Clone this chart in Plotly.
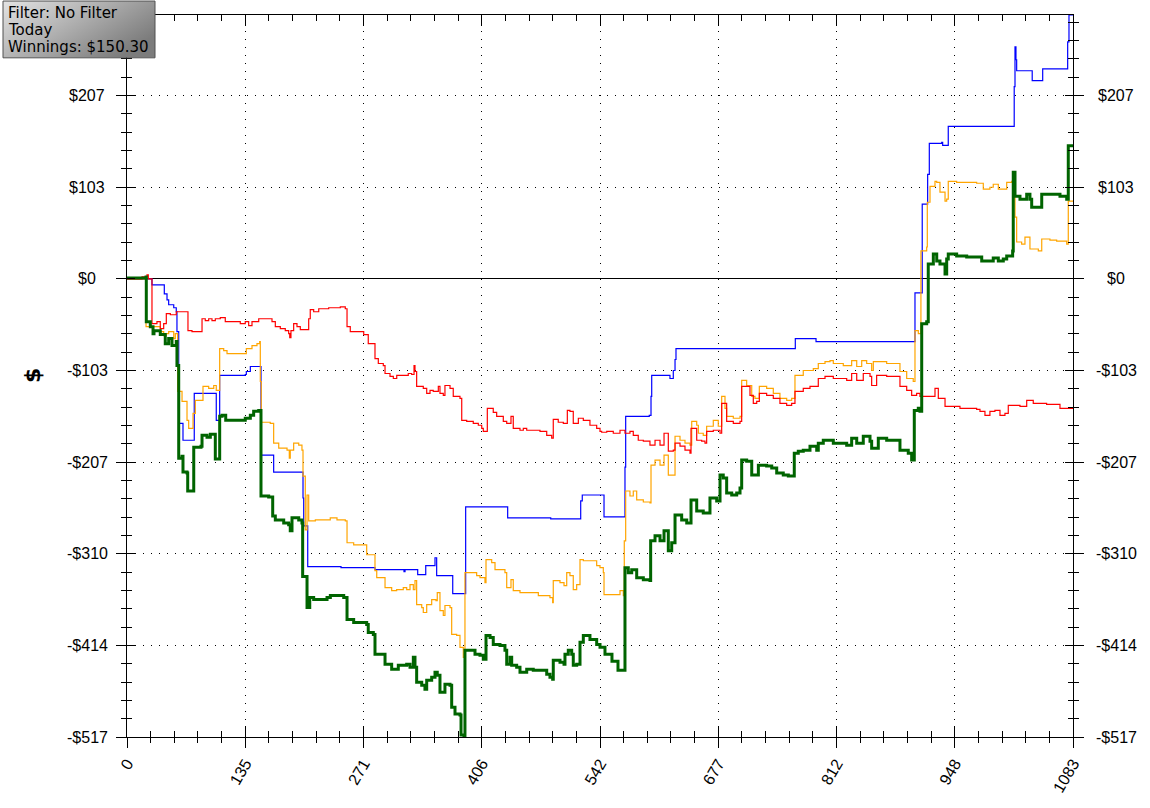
import base64
import plotly.graph_objects as go

# ---------------- data ----------------
HAND_MAX = 1083
Y_MIN, Y_MAX = -517.0, 297.8

x_tick_vals = [0, 135.375, 270.75, 406.125, 541.5, 676.875, 812.25, 947.625, 1083]
x_tick_text = ["0", "135", "271", "406", "542", "677", "812", "948", "1083"]
y_tick_vals = [-517.0, -413.6, -310.2, -206.8, -103.4, 0, 103.4, 206.8]
y_tick_text = ["-$517", "-$414", "-$310", "-$207", "-$103", "$0", "$103", "$207"]

# (hand, dollars) -- green: net won
net_won = [
    (0, 1.1), (21.8, 2.2), (22.1, -48.3), (26.7, -53.9), (29.8, -61.8), (30.9, -58.4), (38.1, -62.9),
    (43.8, -73.1), (47.7, -67.4), (51.5, -75.3), (56.4, -70.8), (57.2, -97.8), (59.2, -202.3),
    (63.0, -200.1), (64.1, -218.0), (68.7, -219.2), (69.5, -239.4), (76.4, -189.9), (84.7, -188.8),
    (85.9, -176.5), (91.6, -178.7), (95.4, -175.3), (101.1, -203.4), (106.1, -155.1), (108.8, -154.0),
    (113.0, -159.6), (135.4, -157.3), (141.2, -154.0), (145.0, -149.5), (150.8, -148.4), (153.4, -245.0),
    (162.2, -246.1), (166.8, -267.5), (169.8, -272.0), (179.4, -275.4), (185.1, -277.6), (186.9, -284.3),
    (188.9, -269.7), (196.6, -272.0), (200.3, -275.4), (201.1, -336.0), (206.1, -370.9), (209.2, -359.6),
    (213.7, -361.9), (229.0, -359.6), (232.8, -357.4), (248.1, -359.6), (251.9, -384.4), (259.5, -387.7),
    (274.4, -390.0), (276.2, -399.0), (282.0, -401.2), (283.9, -423.7), (295.4, -434.9), (303.0, -440.6),
    (310.6, -436.1), (320.2, -434.9), (324.0, -438.3), (327.8, -427.1), (329.7, -438.3), (331.6, -455.2),
    (337.4, -458.6), (341.1, -463.0), (343.1, -452.9), (348.8, -449.6), (352.6, -443.9), (355.2, -447.3),
    (358.3, -466.4), (364.0, -457.4), (369.8, -458.6), (371.7, -483.3), (375.5, -491.1), (381.2, -492.3),
    (382.4, -514.7), (385.8, -517.0), (386.9, -419.2), (398.4, -423.7), (404.1, -424.8), (407.9, -429.3),
    (411.0, -402.4), (415.6, -404.6), (419.3, -412.5), (427.0, -413.6), (432.7, -419.2), (434.7, -434.9),
    (438.5, -427.1), (440.4, -436.1), (446.1, -438.3), (449.9, -443.9), (457.6, -440.6), (465.1, -441.7),
    (480.5, -446.2), (484.2, -449.6), (487.3, -451.8), (488.0, -430.4), (495.7, -432.7), (500.3, -434.9),
    (501.4, -423.7), (505.2, -419.2), (509.1, -423.7), (510.9, -436.1), (514.8, -434.9), (518.6, -410.2),
    (522.4, -402.4), (530.0, -406.9), (537.7, -412.5), (541.5, -415.8), (547.2, -423.7), (555.2, -431.5),
    (562.1, -441.7), (570.1, -325.9), (573.9, -331.6), (577.8, -328.2), (583.5, -337.2), (591.1, -339.4),
    (598.7, -340.5), (599.5, -295.6), (604.5, -290.0), (610.2, -295.6), (614.8, -284.3), (619.7, -306.8),
    (623.6, -297.8), (627.4, -266.4), (635.0, -272.0), (640.8, -275.4), (645.7, -249.5), (652.2, -261.9),
    (659.7, -264.1), (667.4, -247.3), (675.1, -250.6), (678.9, -221.4), (682.6, -224.8), (686.5, -241.6),
    (692.3, -243.9), (698.0, -241.6), (701.8, -236.0), (703.7, -204.5), (709.4, -205.7), (715.2, -221.4),
    (722.8, -210.2), (732.3, -211.3), (738.1, -213.5), (743.8, -219.2), (751.3, -221.4), (757.1, -222.5),
    (763.9, -196.7), (768.5, -194.4), (774.2, -193.3), (781.9, -188.8), (789.6, -193.3), (791.4, -185.4),
    (797.1, -182.1), (808.6, -185.4), (823.9, -187.7), (829.6, -179.8), (835.4, -185.4), (842.9, -177.6),
    (850.6, -183.2), (852.5, -191.1), (860.1, -179.8), (869.7, -182.1), (884.9, -193.3), (894.4, -196.7),
    (898.3, -204.5), (901.3, -148.4), (905.9, -146.1), (907.8, -149.5), (909.8, -50.6), (915.5, -48.3),
    (917.3, 16.9), (923.1, 28.1), (927.0, 20.2), (930.7, 16.9), (936.5, 5.6), (938.4, 22.5), (940.2, 28.1),
    (949.8, 25.8), (961.3, 24.7), (978.5, 20.2), (991.7, 23.6), (997.5, 20.2), (1003.2, 22.5),
    (1007.1, 25.8), (1013.9, 31.5), (1014.6, 120.3), (1016.6, 93.3), (1022.3, 89.9), (1030.0, 95.5),
    (1033.7, 89.9), (1035.7, 80.9), (1047.2, 95.5), (1068.1, 93.3), (1075.8, 89.9), (1077.6, 150.3),
    (1083, 150.3),
]

# blue: showdown winnings
showdown = [
    (0, 0), (28.6, -6.7), (42.7, -16.9), (45.8, -23.6), (47.7, -29.2), (53.5, -32.6), (56.4, -37.1),
    (57.2, -59.6), (59.2, -163.0), (64.1, -182.1), (77.0, -129.2), (102.2, -159.6), (106.1, -109.0),
    (135.4, -107.9), (136.6, -104.5), (141.2, -98.9), (153.4, -198.9), (167.9, -218.0), (201.5, -247.3),
    (202.3, -278.7), (206.9, -324.8), (245.0, -325.9), (283.9, -328.2), (317.1, -330.4), (318.3, -328.2),
    (332.8, -333.8), (342.0, -323.7), (352.6, -314.7), (354.5, -334.9), (372.9, -355.2), (387.7, -257.4),
    (435.8, -269.7), (485.1, -270.9), (519.4, -250.6), (521.2, -243.9), (546.1, -268.6), (570.1, -212.4),
    (570.9, -155.1), (597.9, -154.0), (599.9, -132.6), (600.7, -109.0), (621.6, -112.4), (625.4, -103.4),
    (627.4, -91.0), (628.5, -78.7), (765.1, -67.4), (788.8, -70.8), (902.1, -15.7), (910.4, 84.3),
    (916.6, 118.0), (918.5, 152.9), (932.7, 154.0), (933.8, 150.6), (940.2, 172.0), (1015.7, 216.9),
    (1016.6, 261.9), (1017.7, 247.3), (1018.5, 234.9), (1036.3, 223.7), (1048.3, 237.1), (1076.9, 267.5),
    (1078.4, 297.8), (1083, 297.8),
]

# orange: all-in EV
allin_ev = [
    (0, 0), (21.8, -53.9), (38.1, -59.6), (42.0, -64.1), (45.0, -61.8), (47.7, -59.6), (53.5, -67.4),
    (55.3, -61.8), (58.0, -127.0), (63.0, -138.2), (68.7, -159.6), (70.6, -168.6), (75.6, -151.7),
    (78.2, -137.1), (87.0, -121.4), (93.5, -123.6), (99.3, -120.3), (102.2, -125.9), (106.1, -78.7),
    (110.7, -80.9), (114.5, -84.3), (136.6, -78.7), (143.1, -75.3), (148.8, -73.1), (151.9, -70.8),
    (152.6, -115.8), (153.7, -161.8), (164.0, -163.0), (167.9, -185.4), (173.7, -191.1), (183.2, -193.3),
    (185.8, -202.3), (186.9, -193.3), (190.8, -185.4), (196.6, -187.7), (200.3, -193.3), (201.5, -222.5),
    (204.1, -283.2), (206.1, -243.9), (208.0, -273.1), (215.6, -272.0), (232.7, -269.7), (240.4, -272.0),
    (249.9, -273.1), (251.9, -297.8), (259.5, -300.1), (274.4, -311.3), (283.9, -329.3), (285.9, -337.2),
    (295.4, -348.4), (303.0, -351.8), (308.7, -350.7), (316.3, -348.4), (320.2, -350.7), (324.0, -345.0),
    (327.8, -350.7), (329.7, -340.5), (331.6, -367.5), (337.4, -370.9), (339.2, -376.5), (343.1, -367.5),
    (348.8, -361.9), (353.7, -363.0), (355.2, -354.0), (358.3, -374.3), (362.1, -379.9), (364.0, -368.6),
    (369.8, -370.9), (371.7, -401.2), (377.4, -402.4), (381.2, -415.8), (385.0, -427.1), (386.9, -331.6),
    (400.3, -334.9), (404.1, -337.2), (409.8, -342.8), (411.0, -316.9), (417.5, -320.3), (421.3, -328.2),
    (432.7, -331.6), (434.7, -348.4), (439.6, -339.4), (442.2, -351.8), (449.9, -354.0), (470.9, -357.4),
    (484.2, -359.6), (487.3, -365.3), (488.0, -340.5), (495.7, -342.8), (500.3, -346.2), (503.4, -331.6),
    (507.1, -334.9), (510.9, -350.7), (514.8, -345.0), (518.6, -316.9), (522.4, -318.1), (537.7, -323.7),
    (541.5, -325.9), (545.3, -331.6), (546.1, -356.3), (564.4, -351.8), (568.2, -357.4), (569.3, -295.6),
    (570.9, -239.4), (575.8, -245.0), (579.6, -239.4), (583.5, -249.5), (591.1, -251.8), (598.7, -252.9),
    (599.9, -210.2), (604.5, -204.5), (610.2, -210.2), (614.8, -198.9), (619.7, -221.4), (627.4, -177.6),
    (633.1, -182.1), (638.8, -185.4), (644.5, -187.7), (646.5, -160.7), (652.2, -165.2), (654.1, -174.2),
    (659.7, -176.5), (663.6, -166.3), (671.2, -159.6), (676.9, -166.3), (680.8, -132.6), (684.6, -146.1),
    (686.5, -155.1), (694.1, -157.3), (701.8, -155.1), (703.7, -114.6), (709.4, -120.3), (715.2, -132.6),
    (718.9, -134.9), (723.9, -121.4), (732.3, -123.6), (739.9, -129.2), (747.5, -134.9), (755.2, -137.1),
    (760.9, -134.9), (764.7, -109.0), (774.2, -103.4), (785.7, -101.2), (791.4, -95.5), (799.1, -93.3),
    (804.8, -92.2), (808.6, -95.5), (820.0, -97.8), (829.6, -92.2), (835.4, -98.9), (841.1, -92.2),
    (846.8, -95.5), (852.5, -103.4), (854.4, -93.3), (869.7, -95.5), (884.9, -104.5), (892.6, -112.4),
    (900.1, -115.8), (902.1, -58.4), (905.9, -61.8), (908.9, 31.5), (915.5, 36.0), (916.2, 86.5),
    (919.3, 104.5), (925.0, 110.1), (927.0, 109.0), (930.7, 97.8), (936.5, 87.7), (938.4, 89.9),
    (940.2, 110.1), (949.8, 109.0), (972.7, 107.9), (980.3, 101.2), (987.9, 103.4), (991.7, 106.8),
    (997.5, 101.2), (1007.1, 109.0), (1012.8, 110.1), (1015.4, 112.4), (1016.6, 69.7), (1018.5, 41.6),
    (1024.2, 39.3), (1028.0, 47.2), (1033.7, 33.7), (1043.3, 31.5), (1047.2, 45.0), (1056.6, 43.8),
    (1064.3, 42.7), (1075.8, 39.3), (1077.6, 87.7), (1083, 87.7),
]

# red: non-showdown winnings
non_showdown = [
    (0, 0), (17.2, 2.2), (22.9, 4.5), (24.4, 0), (28.6, -50.6), (34.3, -48.3), (38.1, -56.2), (42.0, -50.6),
    (45.0, -39.3), (49.6, -40.5), (56.4, -37.1), (69.8, -58.4), (74.4, -59.6), (85.9, -45.0), (89.6, -47.2),
    (93.5, -45.0), (97.3, -47.2), (101.1, -45.0), (106.8, -43.8), (112.5, -48.3), (129.7, -50.6),
    (135.4, -48.3), (139.3, -52.8), (143.1, -48.3), (150.8, -45.0), (166.0, -48.3), (169.8, -53.9),
    (175.5, -56.2), (181.2, -58.4), (185.1, -61.8), (186.3, -66.3), (187.7, -58.4), (190.8, -50.6),
    (194.6, -53.9), (198.4, -57.3), (208.0, -45.0), (209.8, -34.8), (213.7, -37.1), (219.5, -33.7),
    (230.9, -32.6), (244.2, -31.5), (249.9, -33.7), (251.9, -53.9), (255.6, -59.6), (271.0, -62.9),
    (276.2, -73.1), (283.9, -89.9), (287.7, -95.5), (293.4, -97.8), (295.4, -106.8), (301.1, -110.1),
    (304.9, -112.4), (308.8, -109.0), (322.0, -106.8), (325.9, -107.9), (328.6, -97.8), (329.7, -104.5),
    (331.6, -121.4), (339.2, -123.6), (343.1, -129.2), (346.9, -125.9), (350.6, -127.0), (356.4, -121.4),
    (358.3, -129.2), (362.1, -131.5), (364.0, -120.3), (369.8, -123.6), (373.5, -132.6), (381.2, -134.9),
    (383.2, -159.6), (388.9, -160.7), (396.4, -163.0), (402.2, -165.2), (406.1, -168.6), (407.9, -172.0),
    (412.5, -146.1), (419.3, -150.6), (423.2, -155.1), (430.8, -160.7), (434.7, -163.0), (439.6, -155.1),
    (442.2, -168.6), (449.9, -170.8), (453.7, -168.6), (457.6, -170.8), (472.8, -172.0), (480.5, -176.5),
    (486.2, -179.8), (488.0, -158.5), (493.7, -161.8), (499.5, -163.0), (504.1, -148.4), (507.1, -149.5),
    (510.9, -163.0), (516.7, -157.3), (522.4, -159.6), (530.0, -165.2), (537.7, -168.6), (541.5, -172.0),
    (543.4, -173.1), (549.2, -172.0), (556.7, -174.2), (564.4, -170.8), (570.1, -174.2), (575.8, -172.0),
    (579.6, -176.5), (585.3, -182.1), (591.1, -183.2), (598.7, -187.7), (604.5, -182.1), (610.2, -187.7),
    (614.8, -174.2), (619.7, -194.4), (625.4, -193.3), (627.4, -185.4), (633.1, -188.8), (638.8, -193.3),
    (644.5, -196.7), (645.7, -168.6), (652.2, -182.1), (657.9, -183.2), (661.7, -185.4), (663.6, -172.0),
    (671.2, -170.8), (678.9, -174.2), (680.8, -140.5), (686.5, -160.7), (694.1, -163.0), (701.8, -160.7),
    (703.7, -121.4), (713.2, -131.5), (717.0, -140.5), (720.9, -138.2), (723.9, -129.2), (732.3, -131.5),
    (739.9, -134.9), (747.5, -140.5), (755.2, -142.7), (760.9, -140.5), (764.7, -127.0), (774.2, -123.6),
    (781.9, -121.4), (791.4, -112.4), (799.1, -110.1), (808.6, -112.4), (823.9, -114.6), (829.6, -106.8),
    (835.4, -114.6), (842.9, -106.8), (850.6, -110.1), (852.5, -120.3), (858.2, -109.0), (869.7, -110.1),
    (884.9, -121.4), (892.6, -125.9), (898.3, -131.5), (904.0, -129.2), (907.8, -132.6), (925.0, -123.6),
    (928.8, -134.9), (936.5, -143.9), (953.6, -146.1), (972.7, -147.2), (976.5, -149.5), (982.2, -154.0),
    (987.9, -149.5), (993.6, -148.4), (999.4, -154.0), (1005.1, -151.7), (1008.9, -142.7), (1022.3, -143.9),
    (1030.0, -137.1), (1037.5, -140.5), (1052.8, -141.6), (1068.1, -146.1), (1083, -146.1),
]

info_lines = ["Filter: No Filter", "Today", "Winnings: $150.30"]
y_title = "$"

# ---------------- figure ----------------
W, H = 1150, 808
ML, MR, MT, MB = 127, 77, 15, 68
PW, PH = W - ML - MR, H - MT - MB


def px_x(p):  # pixel column -> paper x
    return (p - ML) / PW


def px_y(p):  # pixel row -> paper y
    return (H - MB - p) / PH


fig = go.Figure()
series = [
    ("Showdown", showdown, "#0000ff", 1.2),
    ("All-in EV", allin_ev, "#ffa500", 1.2),
    ("Non-showdown", non_showdown, "#ff0000", 1.2),
    ("Net won", net_won, "#006400", 3),
]
for name, pts, color, width in series:
    fig.add_trace(go.Scatter(
        x=[p[0] for p in pts], y=[p[1] for p in pts], name=name, mode="lines",
        line=dict(color=color, width=width, shape="hv"), showlegend=False, hoverinfo="skip",
    ))

# invisible helper traces so the overlay tick axes are drawn
for xa, ya in (("x2", "y"), ("x", "y2"), ("x", "y3")):
    fig.add_trace(go.Scatter(x=[0], y=[0], xaxis=xa, yaxis=ya, mode="lines",
                             line=dict(color="rgba(0,0,0,0)"), showlegend=False, hoverinfo="skip"))

tick_font = dict(family="Liberation Sans, Arial", size=16, color="#000000")
grid_dash = "1px,7px"

fig.update_layout(
    width=W, height=H,
    margin=dict(l=ML, r=MR, t=MT, b=MB, pad=0),
    paper_bgcolor="white", plot_bgcolor="white",
    showlegend=False,
    xaxis=dict(
        range=[0, HAND_MAX], side="bottom", tickmode="array", tickvals=x_tick_vals, ticktext=x_tick_text,
        tickangle=-60, tickfont=tick_font, ticks="outside", ticklen=10, tickwidth=1, tickcolor="black",
        minor=dict(ticks="outside", ticklen=5, tick0=0, dtick=HAND_MAX / 40, tickcolor="black", showgrid=False),
        showgrid=True, gridcolor="black", gridwidth=1, griddash=grid_dash,
        showline=True, linecolor="black", linewidth=1, mirror=True, zeroline=False, fixedrange=True,
    ),
    xaxis2=dict(
        range=[0, HAND_MAX], overlaying="x", side="bottom", anchor="y", tickmode="array",
        tickvals=x_tick_vals, showticklabels=False, ticks="inside", ticklen=11, tickcolor="black",
        minor=dict(ticks="inside", ticklen=6, tick0=0, dtick=HAND_MAX / 40, tickcolor="black", showgrid=False),
        showgrid=False, zeroline=False, showline=True, linecolor="black", mirror="allticks",
    ),
    yaxis=dict(
        range=[Y_MIN, Y_MAX], side="left", tickmode="array", tickvals=y_tick_vals, showticklabels=False,
        ticks="outside", ticklen=10, tickcolor="black",
        minor=dict(ticks="outside", ticklen=5, tick0=0, dtick=103.4 / 5, tickcolor="black", showgrid=False),
        showgrid=True, gridcolor="black", gridwidth=1, griddash=grid_dash,
        zeroline=True, zerolinecolor="black", zerolinewidth=1,
        showline=True, linecolor="black", linewidth=1, mirror=True, fixedrange=True,
    ),
    yaxis2=dict(
        range=[Y_MIN, Y_MAX], overlaying="y", side="right", anchor="x", tickmode="array",
        tickvals=y_tick_vals, showticklabels=False, ticks="outside", ticklen=10, tickcolor="black",
        minor=dict(ticks="outside", ticklen=5, tick0=0, dtick=103.4 / 5, tickcolor="black", showgrid=False),
        showgrid=False, zeroline=False, showline=True, linecolor="black",
    ),
    yaxis3=dict(
        range=[Y_MIN, Y_MAX], overlaying="y", side="left", anchor="x", tickmode="array",
        tickvals=y_tick_vals, showticklabels=False, ticks="inside", ticklen=8, tickcolor="black",
        minor=dict(ticks="inside", ticklen=5, tick0=0, dtick=103.4 / 5, tickcolor="black", showgrid=False),
        showgrid=False, zeroline=False, showline=True, linecolor="black", mirror="allticks",
    ),
)

# y tick labels, centred like the original, on both sides
for v, t in zip(y_tick_vals, y_tick_text):
    for xc in (87, 1116):
        fig.add_annotation(x=px_x(xc), xref="paper", y=v, yref="y", text=t, showarrow=False,
                           xanchor="center", yanchor="middle", font=tick_font)

# y axis title
fig.add_annotation(x=px_x(32), xref="paper", y=0.5, yref="paper", text=f"<b>{y_title}</b>", showarrow=False,
                   textangle=-90, xanchor="center", yanchor="middle",
                   font=dict(family="DejaVu Sans", size=22, color="black"))

# info box with gradient background
bx0, by0, bx1, by1 = 3, 1, 155, 58
svg = (
    f'<svg xmlns="http://www.w3.org/2000/svg" width="{bx1-bx0}" height="{by1-by0}" '
    f'viewBox="0 0 {bx1-bx0} {by1-by0}" preserveAspectRatio="none">'
    '<defs><linearGradient id="g" x1="0" y1="0" x2="1" y2="0.6">'
    '<stop offset="0" stop-color="#e4e4e4"/><stop offset="1" stop-color="#7c7c7c"/>'
    '</linearGradient></defs>'
    f'<rect x="0" y="0" width="{bx1-bx0}" height="{by1-by0}" fill="url(#g)"/></svg>'
)
src = "data:image/svg+xml;base64," + base64.b64encode(svg.encode()).decode()
fig.add_layout_image(dict(source=src, xref="paper", yref="paper", x=px_x(bx0), y=px_y(by0),
                          sizex=px_x(bx1) - px_x(bx0), sizey=px_y(by0) - px_y(by1),
                          xanchor="left", yanchor="top", sizing="stretch", layer="above"))
fig.add_shape(type="rect", xref="paper", yref="paper", x0=px_x(bx0), x1=px_x(bx1), y0=px_y(by1), y1=px_y(by0),
              line=dict(color="#505050", width=1), fillcolor="rgba(0,0,0,0)", layer="above")
for i, line in enumerate(info_lines):
    fig.add_annotation(x=px_x(6), xref="paper", y=px_y(13 + 17 * i), yref="paper", text=line,
                       showarrow=False, xanchor="left", yanchor="middle",
                       font=dict(family="DejaVu Sans", size=15, color="black"))

fig.write_html("out.html", config={"displayModeBar": False},
               post_script="document.body.style.margin='0';")
